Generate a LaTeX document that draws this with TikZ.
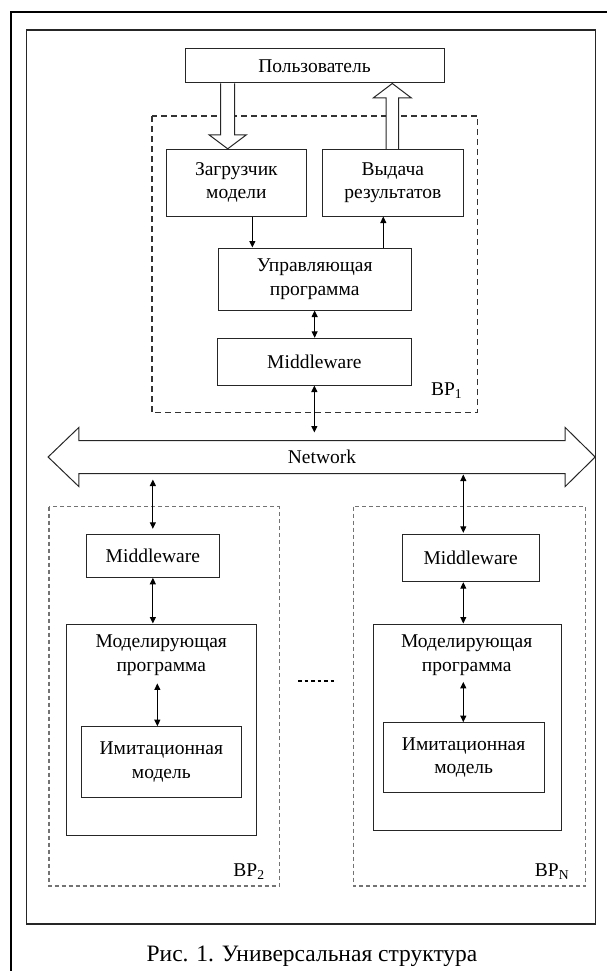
\documentclass[tikz,border=0pt]{standalone}
\usepackage{fontspec}
\setmainfont{Liberation Serif}
\usetikzlibrary{arrows.meta,calc}
\tikzset{
	box/.style={draw=black!85, line width=1pt, inner sep=0pt, align=center},
	conn/.style={line width=1pt, -{Triangle[length=6.5pt,width=6pt]}},
	both/.style={line width=1pt, {Triangle[length=6.5pt,width=6pt]}-{Triangle[length=6.5pt,width=6pt]}},
	hollow/.style={draw=black!85, line width=1pt},
	bpone/.style={draw=black!80, line width=1.1pt, dash pattern=on 6pt off 4pt},
	bpgrp/.style={draw=black!55, line width=1.1pt, dash pattern=on 4pt off 3pt},
}

\begin{document}
\begin{tikzpicture}[x=1pt,y=-1pt,font=\fontsize{19.5}{23.5}\selectfont]
	\useasboundingbox (0,0) rectangle (607,971);
	\draw[line width=2pt] (11,985) -- (11,12) -- (620,12);
	\draw[line width=1.4pt, draw=black!85] (26.7,30) rectangle (595.3,924);

	\draw[bpone] (152,116) rectangle (477.7,412.7);
	\draw[bpgrp] (49,506.7) rectangle (279.3,886);
	\draw[bpgrp] (353.3,506.7) rectangle (585.7,886);

	\node[box, minimum width=259pt, minimum height=34pt] (user) at (314.5,66) {Пользователь};
	\node[box, minimum width=140.7pt, minimum height=66.7pt] (ldr) at (236.35,182.65) {Загрузчик\\модели};
	\node[box, minimum width=141pt, minimum height=66.7pt] (out) at (392.8,182.65) {Выдача\\результатов};
	\node[box, minimum width=192.7pt, minimum height=62pt] (ctl) at (314.65,279) {Управляющая\\программа};
	\node[box, minimum width=193.3pt, minimum height=46.7pt] (mw1) at (314.35,361.65) {Middleware};
	\node (bp1) at (446.7,391) {BP\textsubscript{1}};

	\node[inner sep=0pt, minimum width=486pt, minimum height=32.6pt] (net) at (322,457) {Network};
	\draw[hollow] (net.north west) -- (net.north east) -- ++(0,-13) -- ($(net.east)+(30,0)$) -- ($(net.south east)+(0,13)$) -- (net.south east) -- (net.south west) -- ++(0,13) -- ($(net.west)+(-30.7,0)$) -- ($(net.north west)+(0,-13)$) -- cycle;

	\node[box, minimum width=132.3pt, minimum height=43pt] (mw2) at (152.85,555.8) {Middleware};
	\node[box, minimum width=189.3pt, minimum height=211pt] (prog2) at (161.35,729.5) {};
	\node[align=center, inner sep=0pt] (prog2txt) at (161.3,655) {Моделирующая\\программа};
	\node[box, minimum width=160.7pt, minimum height=71pt] (model2) at (161.35,762.2) {Имитационная\\модель};
	\node (bp2) at (249,872) {BP\textsubscript{2}};

	\node[box, minimum width=137.5pt, minimum height=47.4pt] (mwN) at (470.75,558) {Middleware};
	\node[box, minimum width=188.4pt, minimum height=206pt] (progN) at (467.5,727) {};
	\node[align=center, inner sep=0pt] (progNtxt) at (466.7,655) {Моделирующая\\программа};
	\node[box, minimum width=160.7pt, minimum height=69.6pt] (modelN) at (463.65,757.5) {Имитационная\\модель};
	\node (bpN) at (552,872) {BP\textsubscript{N}};

	\coordinate (h1) at ($(ldr.north)+(-8.65,0)$);
	\coordinate (h2) at ($(out.north)+(-0.5,0)$);
	\draw[hollow, fill=white] ($(h1 |- user.south)+(-7,0)$) -- ($(h1)+(-7,-14)$) -- ($(h1)+(-18.7,-14)$) -- (h1) -- ($(h1)+(18.7,-14)$) -- ($(h1)+(7,-14)$) -- ($(h1 |- user.south)+(7,0)$);
	\draw[hollow, fill=white] ($(h2)+(-6.3,0)$) -- ($(h2 |- user.south)+(-6.3,14.4)$) -- ($(h2 |- user.south)+(-19,14.4)$) -- (h2 |- user.south) -- ($(h2 |- user.south)+(19,14.4)$) -- ($(h2 |- user.south)+(6.3,14.4)$) -- ($(h2)+(6.3,0)$);

	\coordinate (a1) at ($(ldr.south)+(16,0)$);
	\coordinate (a2) at ($(out.south)+(-9.5,0)$);
	\coordinate (a3) at ($(mwN.north)+(-7.45,0)$);
	\coordinate (a4) at ($(model2.north)+(-4,0)$);
	\draw[conn] (a1) -- (a1 |- ctl.north);
	\draw[conn] (a2 |- ctl.north) -- (a2);
	\draw[both] (ctl.south) -- (ctl.south |- mw1.north);
	\draw[both, shorten >=8pt] (mw1.south) -- (mw1.south |- net.north);
	\draw[both, shorten <=6pt, shorten >=5pt] (mw2.north |- net.south) -- (mw2.north);
	\draw[both, shorten <=1pt, shorten >=1pt] (a3 |- net.south) -- (a3);
	\draw[both] (mw2.south) -- (mw2.south |- prog2.north);
	\draw[both] (a3 |- mwN.south) -- (a3 |- progN.north);
	\draw[both, shorten <=8pt] (a4 |- prog2txt.south) -- (a4);
	\draw[both, shorten <=6.5pt] (a3 |- progNtxt.south) -- (a3 |- modelN.north);

	\draw[line width=2.5pt, dash pattern=on 3.5pt off 3pt] (298,681) -- (336,681);

	\node[font=\fontsize{23.5}{27}\selectfont] (cap) at (312,956) {Рис. 1. Универсальная структура};
\end{tikzpicture}
\end{document}
